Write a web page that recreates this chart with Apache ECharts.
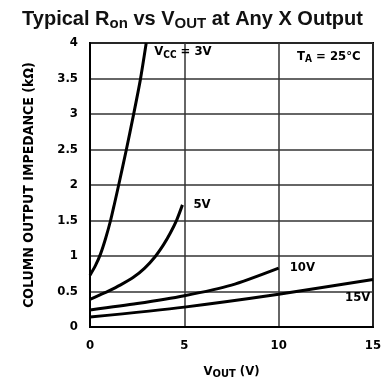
<!DOCTYPE html>
<html><head><meta charset="utf-8">
<script src="https://cdn.jsdelivr.net/npm/echarts@6/dist/echarts.min.js"></script>
<style>html,body{margin:0;padding:0;background:#fff}#c{width:385px;height:392px}</style>
</head><body><div id="c"></div>
<script>
var xTicks = ['0','5','10','15'];
var yTicks = ['0','0.5','1','1.5','2','2.5','3','3.5','4'];
var vout3 = [0, 0.28, 0.56, 0.83, 1.09, 1.3, 1.52, 1.92, 2.3, 2.66, 2.98];
var ron3  = [0.73, 0.86, 1.03, 1.25, 1.5, 1.74, 2.0, 2.49, 2.98, 3.47, 4.0];
var vout5 = [0, 0.5, 1.0, 1.6, 2.3, 2.9, 3.45, 3.9, 4.25, 4.6, 4.9];
var ron5  = [0.39, 0.45, 0.51, 0.59, 0.7, 0.83, 0.99, 1.16, 1.32, 1.51, 1.72];
var vout10 = [0, 2.5, 5, 7.5, 10];
var ron10  = [0.24, 0.33, 0.44, 0.59, 0.83];
var vout15 = [0, 5, 10, 15];
var ron15  = [0.14, 0.28, 0.46, 0.67];
var seriesNames = ['3V','5V','10V','15V'];

function pairs(xs, ys){ return xs.map(function(x,i){return [x, ys[i]];}); }
var FONT = '"DejaVu Sans Condensed","Liberation Sans Narrow",Arial,sans-serif';
var TFONT = 'Arial, "Liberation Sans", sans-serif';
var chart = echarts.init(document.getElementById('c'), null, {renderer:'canvas'});
function mk(name, xs, ys, lbl, off){
  return {
    name: name, type:'line', data: pairs(xs, ys), smooth: 0.25, symbol:'none',
    lineStyle:{color:'#000', width:3},
    endLabel:{show:true, formatter: lbl, offset: off, color:'#000', fontFamily: FONT, fontWeight:'bold', fontSize:13,
      rich:{sub:{fontSize:10, fontWeight:'bold', fontFamily: FONT, verticalAlign:'bottom', padding:[6,0,0,0]}}},
    animation:false
  };
}
chart.setOption({
  animation:false,
  title:{text:'Typical R{s|on} vs V{s|OUT} at Any X Output', left:'center', top:2,
    textStyle:{fontFamily:TFONT, fontWeight:'bold', fontSize:20, color:'#111',
      rich:{s:{fontSize:15, fontWeight:'bold', fontFamily:TFONT, color:'#111', padding:[9,0,0,0]}}}},
  grid:{left:90, right:12, top:43, bottom:65, show:true, borderColor:'#000', borderWidth:2},
  xAxis:{type:'value', min:0, max:15, interval:5,
    name:'V{s|OUT} (V)', nameLocation:'middle', nameGap:36,
    nameTextStyle:{fontFamily:FONT, fontWeight:'bold', fontSize:13, color:'#000', rich:{s:{fontSize:11,fontWeight:'bold',fontFamily:FONT,padding:[6,0,0,0]}}},
    axisLine:{show:true, lineStyle:{color:'#000', width:2}}, axisTick:{show:false},
    axisLabel:{fontFamily:FONT, fontWeight:'bold', fontSize:13, color:'#000', margin:12,
      formatter:function(v){ return xTicks[Math.round(v/5)]; }},
    splitLine:{show:true, lineStyle:{color:'#333', width:1.5}}},
  yAxis:{type:'value', min:0, max:4, interval:0.5,
    name:'COLUMN OUTPUT IMPEDANCE (kΩ)', nameLocation:'middle', nameGap:54, nameRotate:90,
    nameTextStyle:{fontFamily:FONT, fontWeight:'bold', fontSize:14, color:'#000'},
    axisLine:{show:true, lineStyle:{color:'#000', width:2}}, axisTick:{show:false},
    axisLabel:{fontFamily:FONT, fontWeight:'bold', fontSize:13, color:'#000', margin:12,
      formatter:function(v){ return yTicks[Math.round(v/0.5)]; }},
    splitLine:{show:true, lineStyle:{color:'#333', width:1.5}}},
  graphic:[{type:'text', left:297, top:50, style:{text:'T{s|A} = 25°C', fill:'#000', font:'bold 13px '+FONT,
     rich:{s:{fontSize:10, fontWeight:'bold', fontFamily:FONT, padding:[6,0,0,0]}}}}],
  series:[
    mk(seriesNames[0], vout3, ron3, 'V{sub|CC} = 3V', [0, 9]),
    mk(seriesNames[1], vout5, ron5, '5V', [3, 0]),
    mk(seriesNames[2], vout10, ron10, '10V', [3, 0]),
    mk(seriesNames[3], vout15, ron15, '15V', [-36, 18])
  ]
});
</script></body></html>
